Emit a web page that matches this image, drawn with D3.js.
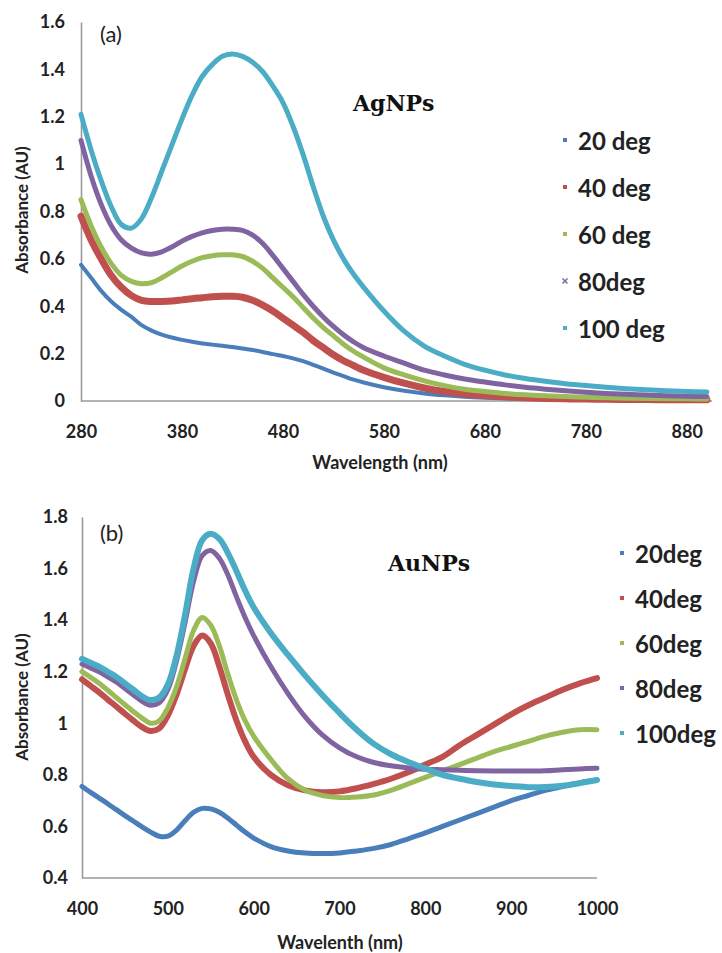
<!DOCTYPE html>
<html>
<head>
<meta charset="utf-8">
<script src="https://cdn.jsdelivr.net/npm/d3@7/dist/d3.min.js"></script>
<style>
  html, body { margin: 0; padding: 0; background: #fff; }
  svg { display: block; }
  .tick text { font-family: Lato, "Open Sans", sans-serif; font-weight: 700; fill: #222; }
</style>
</head>
<body>
<svg id="fig" width="722" height="953"></svg>
<script>
// ---- Panel (a): silver nanoparticles ----
const agWavelengths = [280,290,300,310,320,330,340,350,360,370,380,390,400,410,420,430,440,450,460,470,480,490,500,510,520,530,540,550,560,580,600,620,640,660,680,700,720,740,760,780,800,820,840,860,880,900];
const ag20  = [0.575,0.52,0.465,0.42,0.385,0.355,0.32,0.297,0.28,0.268,0.258,0.25,0.243,0.238,0.233,0.228,0.222,0.215,0.207,0.198,0.19,0.18,0.168,0.153,0.137,0.12,0.105,0.09,0.078,0.058,0.043,0.032,0.024,0.018,0.014,0.011,0.009,0.008,0.007,0.006,0.006,0.005,0.005,0.005,0.005,0.005];
const ag40  = [0.78,0.68,0.60,0.53,0.48,0.445,0.425,0.42,0.42,0.422,0.427,0.432,0.436,0.44,0.442,0.442,0.438,0.425,0.405,0.38,0.35,0.32,0.29,0.255,0.225,0.195,0.17,0.15,0.13,0.10,0.075,0.055,0.04,0.03,0.023,0.018,0.014,0.011,0.009,0.008,0.007,0.006,0.006,0.005,0.005,0.005];
const ag60  = [0.85,0.74,0.65,0.58,0.53,0.505,0.495,0.50,0.52,0.545,0.57,0.59,0.605,0.613,0.617,0.617,0.61,0.59,0.56,0.52,0.48,0.44,0.395,0.35,0.31,0.275,0.24,0.21,0.185,0.14,0.11,0.085,0.065,0.05,0.04,0.032,0.026,0.022,0.019,0.016,0.014,0.012,0.011,0.01,0.009,0.008];
const ag80  = [1.10,0.95,0.83,0.74,0.68,0.645,0.625,0.62,0.63,0.65,0.675,0.695,0.71,0.72,0.725,0.725,0.72,0.70,0.665,0.615,0.56,0.505,0.45,0.40,0.355,0.315,0.28,0.25,0.225,0.19,0.16,0.13,0.11,0.093,0.08,0.068,0.058,0.05,0.043,0.037,0.032,0.028,0.025,0.022,0.02,0.019];
const ag100 = [1.21,1.06,0.93,0.82,0.745,0.73,0.77,0.86,0.97,1.08,1.19,1.29,1.37,1.42,1.455,1.465,1.455,1.43,1.39,1.33,1.26,1.16,1.04,0.905,0.78,0.68,0.60,0.535,0.48,0.38,0.295,0.232,0.19,0.155,0.13,0.11,0.095,0.083,0.073,0.065,0.058,0.052,0.047,0.043,0.04,0.038];
const agTicksX = [280,380,480,580,680,780,880];
const agTicksY = [0,0.2,0.4,0.6,0.8,1,1.2,1.4,1.6];
const agLabels = ["20 deg","40 deg","60 deg","80deg","100 deg"];

// ---- Panel (b): gold nanoparticles ----
const auWavelengths = [400,410,420,430,440,450,460,470,480,490,500,510,520,530,540,550,560,570,580,590,600,620,640,660,680,700,720,740,760,780,800,820,840,860,880,900,920,940,960,980,1000];
const au20  = [0.755,0.732,0.71,0.688,0.665,0.642,0.62,0.598,0.578,0.562,0.562,0.585,0.622,0.655,0.67,0.668,0.655,0.632,0.605,0.578,0.555,0.522,0.505,0.497,0.495,0.497,0.505,0.515,0.53,0.552,0.575,0.60,0.625,0.65,0.675,0.70,0.72,0.74,0.755,0.77,0.78];
const au40  = [1.17,1.145,1.12,1.092,1.065,1.037,1.01,0.985,0.97,0.98,1.03,1.11,1.21,1.30,1.34,1.31,1.22,1.11,1.01,0.93,0.87,0.80,0.76,0.74,0.733,0.736,0.748,0.765,0.785,0.81,0.84,0.87,0.915,0.955,0.995,1.035,1.07,1.10,1.13,1.155,1.175];
const au60  = [1.20,1.178,1.155,1.128,1.10,1.072,1.045,1.02,1.00,1.01,1.06,1.14,1.25,1.36,1.41,1.38,1.30,1.19,1.09,1.01,0.95,0.86,0.785,0.74,0.72,0.712,0.714,0.722,0.74,0.765,0.79,0.815,0.84,0.865,0.89,0.91,0.93,0.95,0.965,0.975,0.975];
const au80  = [1.23,1.215,1.20,1.18,1.16,1.135,1.11,1.085,1.07,1.08,1.13,1.24,1.39,1.55,1.65,1.67,1.64,1.575,1.49,1.41,1.34,1.22,1.115,1.025,0.955,0.905,0.87,0.848,0.835,0.827,0.822,0.82,0.818,0.816,0.815,0.815,0.815,0.816,0.82,0.823,0.826];
const au100 = [1.25,1.235,1.22,1.20,1.18,1.155,1.13,1.105,1.09,1.10,1.15,1.26,1.42,1.60,1.71,1.735,1.715,1.66,1.59,1.515,1.45,1.35,1.265,1.185,1.11,1.04,0.975,0.92,0.88,0.85,0.825,0.80,0.785,0.772,0.763,0.757,0.752,0.753,0.758,0.768,0.78];
const auTicksX = [400,500,600,700,800,900,1000];
const auTicksY = [0.4,0.6,0.8,1,1.2,1.4,1.6,1.8];
const auLabels = ["20deg","40deg","60deg","80deg","100deg"];

const seriesColors = ["#4a7ebb","#c0504d","#9bbb59","#8064a2","#4bacc6"];

const svg = d3.select("#fig");

function drawPanel(cfg) {
  const x = d3.scaleLinear().domain(cfg.xDomain).range(cfg.xRange);
  const y = d3.scaleLinear().domain(cfg.yDomain).range(cfg.yRange);
  const g = svg.append("g");

  // axes
  const ax = g.append("g")
    .attr("transform", `translate(0,${cfg.yRange[0]})`)
    .call(d3.axisBottom(x).tickValues(cfg.ticksX).tickSize(0).tickPadding(cfg.xPad).tickFormat(d3.format("d")));
  ax.select(".domain").attr("stroke", "#9a9a9a").attr("stroke-width", 1.6).attr("d", `M${cfg.xRange[0]},0H${cfg.axisEnd}`);
  ax.selectAll(".tick text").attr("font-size", 18);

  const ay = g.append("g")
    .attr("transform", `translate(${cfg.xRange[0]},0)`)
    .call(d3.axisLeft(y).tickValues(cfg.ticksY).tickSize(0).tickPadding(cfg.yPad).tickFormat(d => d3.format("")(+d.toFixed(1))));
  ay.select(".domain").attr("stroke", "#9a9a9a").attr("stroke-width", 1.6);
  ay.selectAll(".tick text").attr("font-size", 18);

  // curves
  const line = d3.line().x((d, i) => x(cfg.wl[i])).y(d => y(d)).curve(d3.curveCatmullRom.alpha(0.5));
  cfg.series.forEach((s, i) => {
    g.append("path")
      .datum(s)
      .attr("d", line)
      .attr("fill", "none")
      .attr("stroke", seriesColors[i])
      .attr("stroke-width", cfg.widths[i])
      .attr("stroke-linecap", "round")
      .attr("stroke-linejoin", "round");
  });

  // axis titles
  g.append("text")
    .attr("transform", `translate(${cfg.yTitlePos[0]},${cfg.yTitlePos[1]}) rotate(-90)`)
    .attr("text-anchor", "middle").attr("dominant-baseline", "central")
    .attr("font-family", "Lato, sans-serif").attr("font-weight", 700).attr("font-size", 17)
    .attr("fill", "#222").text("Absorbance (AU)");
  g.append("text")
    .attr("x", cfg.xTitlePos[0]).attr("y", cfg.xTitlePos[1])
    .attr("text-anchor", "middle").attr("dominant-baseline", "central")
    .attr("font-family", "Lato, sans-serif").attr("font-weight", 700).attr("font-size", 18)
    .attr("fill", "#222").text(cfg.xTitle);

  // panel tag and sample name
  g.append("text")
    .attr("x", cfg.tagPos[0]).attr("y", cfg.tagPos[1])
    .attr("dominant-baseline", "central")
    .attr("font-family", "Lato, sans-serif").attr("font-size", 22).attr("fill", "#222")
    .text(cfg.tag);
  g.append("text")
    .attr("x", cfg.namePos[0]).attr("y", cfg.namePos[1])
    .attr("dominant-baseline", "central")
    .attr("font-family", "'DejaVu Serif', serif").attr("font-weight", 700).attr("font-size", 22)
    .attr("fill", "#111").text(cfg.name);

  // legend
  cfg.labels.forEach((lab, i) => {
    const ly = cfg.legendY[0] + i * cfg.legendY[1];
    if (cfg.crossMarker === i) {
      g.append("path")
        .attr("d", `M${cfg.legendX - 2.5},${ly - 2.5}l5,5M${cfg.legendX + 2.5},${ly - 2.5}l-5,5`)
        .attr("stroke", seriesColors[i]).attr("stroke-width", 1.5);
    } else {
      g.append("rect")
        .attr("x", cfg.legendX - 2).attr("y", ly - 2).attr("width", 4).attr("height", 4)
        .attr("fill", seriesColors[i]);
    }
    g.append("text")
      .attr("x", cfg.legendX + 13).attr("y", ly)
      .attr("dominant-baseline", "central")
      .attr("font-family", "Lato, sans-serif").attr("font-weight", 700).attr("font-size", 24)
      .attr("fill", "#222").text(lab);
  });
}

drawPanel({
  wl: agWavelengths,
  series: [ag20, ag40, ag60, ag80, ag100],
  widths: [4, 7, 5, 5, 5],
  xDomain: [280, 905], xRange: [81, 712], axisEnd: 712,
  yDomain: [0, 1.6], yRange: [401, 22],
  ticksX: agTicksX, ticksY: agTicksY,
  xPad: 24, yPad: 16,
  yTitlePos: [21, 210], xTitlePos: [380, 462], xTitle: "Wavelength (nm)",
  tagPos: [100, 33], tag: "(a)",
  namePos: [353, 103], name: "AgNPs",
  labels: agLabels, legendX: 565, legendY: [140, 47], crossMarker: 3
});

drawPanel({
  wl: auWavelengths,
  series: [au20, au40, au60, au80, au100],
  widths: [5, 6, 5, 5, 6],
  xDomain: [400, 1000], xRange: [82, 597], axisEnd: 597,
  yDomain: [0.4, 1.8], yRange: [878, 517],
  ticksX: auTicksX, ticksY: auTicksY,
  xPad: 24, yPad: 14,
  yTitlePos: [21, 697], xTitlePos: [340, 942], xTitle: "Wavelenth (nm)",
  tagPos: [100, 532], tag: "(b)",
  namePos: [388, 563], name: "AuNPs",
  labels: auLabels, legendX: 622, legendY: [553, 45], crossMarker: -1
});
</script>
</body>
</html>
